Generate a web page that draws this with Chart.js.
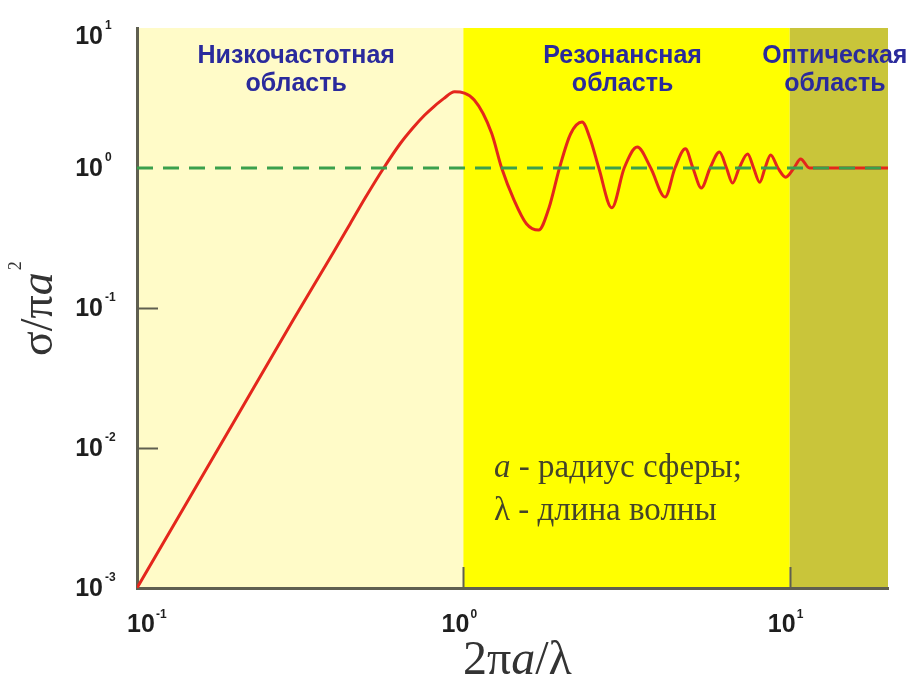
<!DOCTYPE html>
<html>
<head>
<meta charset="utf-8">
<script src="https://cdn.jsdelivr.net/npm/chart.js@4.4.1/dist/chart.umd.min.js"></script>
<style>
  html, body { margin: 0; padding: 0; background: #fff; }
  #wrap { width: 916px; height: 678px; }
</style>
</head>
<body>
<div id="wrap"><canvas id="rcs"></canvas></div>
<script>
// ── DATA ──
const kaValues  = [0.1, 0.2, 0.3, 0.4, 0.45, 0.5, 0.57, 0.64, 0.70, 0.76, 0.814, 0.87, 0.94, 1.08, 1.22, 1.31, 1.43, 1.56, 1.70,
                   1.83, 1.97, 2.13, 2.31, 2.45, 2.60, 2.85, 3.11, 3.41, 3.75, 4.15, 4.45, 4.79, 5.05, 5.36,
                   5.70, 6.09, 6.40, 6.68, 7.00, 7.43, 7.75, 8.09, 8.40, 8.74, 9.20, 9.72, 10.3, 10.8, 11.5, 20];
const rcsValues = [0.001, 0.016, 0.081, 0.25, 0.40, 0.61, 1.0, 1.49, 1.93, 2.38, 2.76, 3.13, 3.5, 3.06, 1.78, 1.0, 0.59, 0.40, 0.36,
                   0.52, 1.0, 1.75, 2.13, 1.6, 1.0, 0.52, 1.0, 1.41, 1.0, 0.62, 1.0, 1.37, 1.0, 0.72,
                   1.0, 1.30, 1.0, 0.78, 1.0, 1.26, 1.0, 0.79, 1.0, 1.24, 1.0, 0.86, 1.0, 1.16, 1.0, 1.0];
const opticalLimitX = [0.1, 20];
const opticalLimitY = [1, 1];

const xTickValues = [0.1, 1, 10];
const xTickExps   = ['-1', '0', '1'];
const yTickValues = [0.001, 0.01, 0.1, 1, 10];
const yTickExps   = ['-3', '-2', '-1', '0', '1'];

const regionEdges  = [0.1, 1, 10, 20];
const regionColors = ['#fffbc8', '#ffff00', '#c9c53a'];
const regionNames  = [['Низкочастотная', 'область'], ['Резонансная', 'область'], ['Оптическая', 'область']];

const noteLines = [['a', 'italic ', ' - радиус сферы;'], ['λ', '', ' - длина волны']];

const SANS  = '"Liberation Sans", Arial, sans-serif';
const SERIF = '"Liberation Serif", "Times New Roman", serif';

// ── PLUGINS ──
const regionsPlugin = {
  id: 'regions',
  beforeDraw(chart) {
    const { ctx, chartArea: a, scales: { x } } = chart;
    ctx.save();
    for (let i = 0; i < regionColors.length; i++) {
      const x0 = x.getPixelForValue(regionEdges[i]);
      const x1 = x.getPixelForValue(regionEdges[i + 1]);
      ctx.fillStyle = regionColors[i];
      ctx.fillRect(x0, a.top, x1 - x0, a.bottom - a.top);
    }
    ctx.restore();
  }
};

const decorPlugin = {
  id: 'decor',
  afterDraw(chart) {
    const { ctx, chartArea: a, scales: { x, y } } = chart;
    ctx.save();

    // inward tick marks
    ctx.strokeStyle = '#5f5f50';
    ctx.lineWidth = 2;
    [0.01, 0.1].forEach(v => {
      const py = Math.round(y.getPixelForValue(v)) + 0.5;
      ctx.beginPath(); ctx.moveTo(a.left, py); ctx.lineTo(a.left + 21, py); ctx.stroke();
    });
    [1, 10].forEach(v => {
      const px = Math.round(x.getPixelForValue(v)) + 0.5;
      ctx.beginPath(); ctx.moveTo(px, a.bottom); ctx.lineTo(px, a.bottom - 21); ctx.stroke();
    });

    // tick labels 10^n
    ctx.fillStyle = '#1e1e1e';
    ctx.textBaseline = 'middle';
    yTickValues.forEach((v, i) => {
      const py = Math.max(y.getPixelForValue(v), 36);
      ctx.font = 'bold 25px ' + SANS;
      ctx.textAlign = 'right';
      ctx.fillText('10', 103, py + 1);
      ctx.font = 'bold 12px ' + SANS;
      ctx.textAlign = 'left';
      ctx.fillText(yTickExps[i], 105, py - 10);
    });
    xTickValues.forEach((v, i) => {
      const px = x.getPixelForValue(v);
      const shift = i === 0 ? 4 : -8;   // first label sits right of the axis corner
      ctx.font = 'bold 25px ' + SANS;
      ctx.textAlign = 'center';
      ctx.fillText('10', px + shift, a.bottom + 37);
      ctx.font = 'bold 12px ' + SANS;
      ctx.textAlign = 'left';
      ctx.fillText(xTickExps[i], px + shift + 15, a.bottom + 27);
    });

    // region names
    ctx.fillStyle = '#2a2a9c';
    ctx.font = 'bold 25px ' + SANS;
    ctx.textAlign = 'center';
    for (let i = 0; i < regionNames.length; i++) {
      const cx = (x.getPixelForValue(regionEdges[i]) + x.getPixelForValue(regionEdges[i + 1])) / 2;
      ctx.fillText(regionNames[i][0], cx - 4, 56);
      ctx.fillText(regionNames[i][1], cx - 4, 84);
    }

    // note
    ctx.fillStyle = '#44442a';
    ctx.textAlign = 'left';
    noteLines.forEach((ln, i) => {
      const yy = 468 + i * 43;
      ctx.font = ln[1] + '33px ' + SERIF;
      ctx.fillText(ln[0], 494, yy);
      const w = ctx.measureText(ln[0]).width;
      ctx.font = '33px ' + SERIF;
      ctx.fillText(ln[2], 494 + w, yy);
    });

    // axis titles
    ctx.fillStyle = '#333';
    ctx.textBaseline = 'alphabetic';
    ctx.textAlign = 'left';
    let tx = 463;
    [['2π', ''], ['a', 'italic '], ['/λ', '']].forEach(p => {
      ctx.font = p[1] + '48px ' + SERIF;
      ctx.fillText(p[0], tx, 674);
      tx += ctx.measureText(p[0]).width;
    });

    ctx.translate(52, 356);
    ctx.rotate(-Math.PI / 2);
    let ty = 0;
    [['σ/π', ''], ['a', 'italic ']].forEach(p => {
      ctx.font = p[1] + '46px ' + SERIF;
      ctx.fillText(p[0], ty, 0);
      ty += ctx.measureText(p[0]).width;
    });
    ctx.font = '18px ' + SERIF;
    ctx.fillText('2', ty + 2, -31);
    ctx.restore();
  }
};

// ── CHART ──
new Chart(document.getElementById('rcs'), {
  type: 'scatter',
  data: {
    datasets: [
      {
        data: kaValues.map((v, i) => ({ x: v, y: rcsValues[i] })),
        showLine: true,
        borderColor: '#e4261c',
        borderWidth: 3,
        pointRadius: 0,
        cubicInterpolationMode: 'monotone',
        order: 2
      },
      {
        data: opticalLimitX.map((v, i) => ({ x: v, y: opticalLimitY[i] })),
        showLine: true,
        borderColor: '#3aa04c',
        borderWidth: 3,
        borderDash: [16, 10],
        pointRadius: 0,
        order: 1
      }
    ]
  },
  options: {
    responsive: true,
    maintainAspectRatio: false,
    animation: false,
    layout: { padding: { left: 137, right: 28, top: 28, bottom: 90 } },
    plugins: { legend: { display: false }, tooltip: { enabled: false } },
    scales: {
      x: {
        type: 'logarithmic', min: 0.1, max: 20,
        grid: { display: false, drawTicks: false },
        border: { color: '#5f5f50', width: 3 },
        ticks: { display: false }
      },
      y: {
        type: 'logarithmic', min: 0.001, max: 10,
        grid: { display: false, drawTicks: false },
        border: { color: '#5f5f50', width: 3 },
        ticks: { display: false }
      }
    }
  },
  plugins: [regionsPlugin, decorPlugin]
});
</script>
</body>
</html>
